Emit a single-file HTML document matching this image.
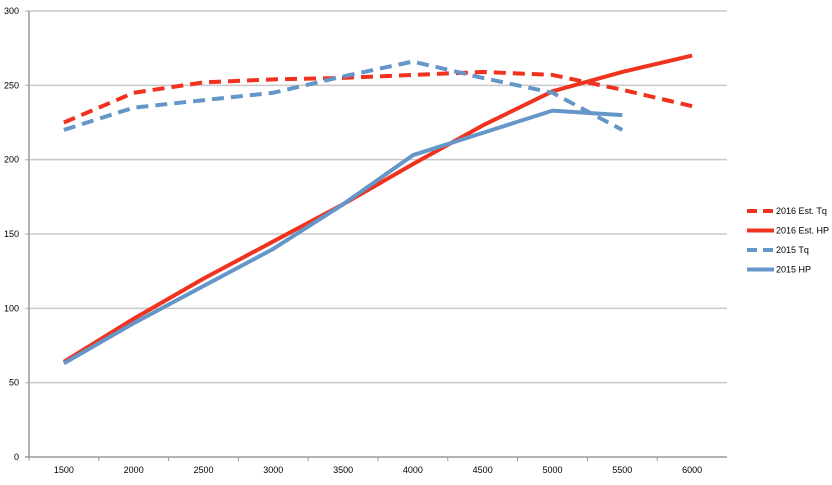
<!DOCTYPE html>
<html><head><meta charset="utf-8"><style>
body{margin:0;background:#fff;font-family:"Liberation Sans",sans-serif}
svg text{font-family:"Liberation Sans",sans-serif;font-size:9px;fill:#000}
</style></head><body>
<svg id="c" width="832" height="480"></svg>
<script>
const categories=[1500,2000,2500,3000,3500,4000,4500,5000,5500,6000];
const yTicks=[0,50,100,150,200,250,300];
const tq2016=[225,245,252,254,255,257,259,257,247,236];
const hp2016=[64,93,120,145,170,197,223,246,259,270];
const tq2015=[220,235,240,245,256,266,255,245,220];
const hp2015=[63,90,115,140,170,203,218,233,230];
const seriesNames=["2016 Est. Tq","2016 Est. HP","2015 Tq","2015 HP"];
const ns="http://www.w3.org/2000/svg";
const svg=document.getElementById('c');
const L=29,R=727,T=11,B=457,cw=(R-L)/categories.length;
const x=i=>L+cw*(i+0.5), y=v=>B-(v/300)*(B-T);
function mk(t,a){const e=document.createElementNS(ns,t);for(const k in a)e.setAttribute(k,a[k]);svg.appendChild(e);return e;}
yTicks.forEach(v=>{
 const g=mk('line',{x1:L-4,x2:R,y1:y(v),y2:y(v),stroke:v===0?'#999':'#c8c8c8','stroke-width':1.5});
 
 
 const t=mk('text',{x:L-10,y:y(v)+3,'text-anchor':'end'});t.textContent=v;
 
 
});
const ax=mk('line',{x1:L,x2:L,y1:T,y2:B,stroke:'#999','stroke-width':1.5});


categories.forEach((c,i)=>{
 const tk=mk('line',{x1:L+cw*i,x2:L+cw*i,y1:B,y2:B+4,stroke:'#999'});
 
 
 const t=mk('text',{x:x(i),y:B+16,'text-anchor':'middle'});t.textContent=c;
 
 
});
const series=[[tq2016,'#f0321e',true],[hp2016,'#f0321e',false],[tq2015,'#6497c8',true],[hp2015,'#6497c8',false]];
series.forEach((s,k)=>{
 const p=mk('polyline',{points:s[0].map((v,i)=>x(i)+','+y(v)).join(' '),fill:'none',stroke:s[1],'stroke-width':4,'stroke-linejoin':'round','stroke-dasharray':s[2]?'12,7':'none'});
 
 
 const ly=211+k*19.5;
 const l=mk('line',{x1:747,x2:774,y1:ly,y2:ly,stroke:s[1],'stroke-width':4,'stroke-dasharray':s[2]?'10,6':'none'});
 
 
 const t=mk('text',{x:776,y:ly+3});t.textContent=seriesNames[k];
 
 
});
</script>
</body></html>
